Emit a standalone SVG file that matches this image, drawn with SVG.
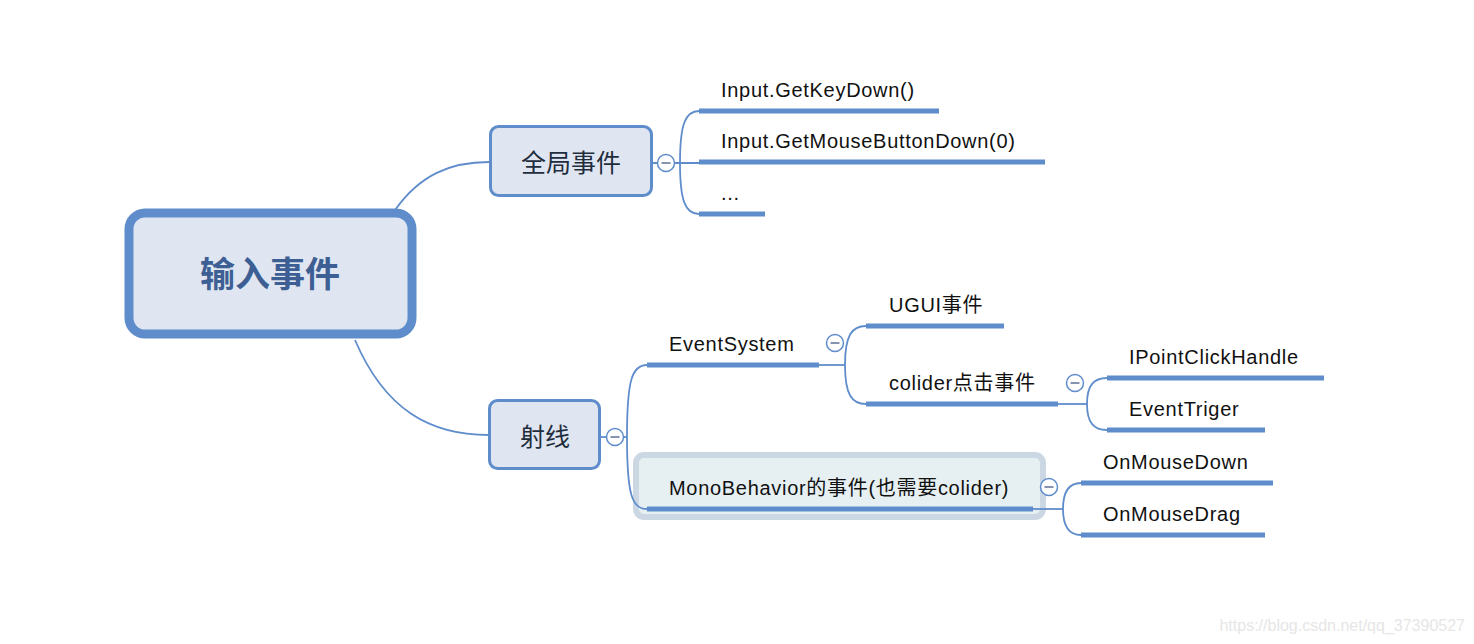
<svg xmlns="http://www.w3.org/2000/svg" width="1474" height="644" viewBox="0 0 1474 644">
<style>
.conn{fill:none;stroke:#5f8dcc;stroke-width:1.8}
.ul{stroke:#5f8dcc;stroke-width:5;fill:none}
.topic{fill:#dfe6f1;stroke:#5f8dcc;stroke-width:3}
.t{font-family:"Liberation Sans","Noto Sans CJK SC",sans-serif;font-size:20px;letter-spacing:0.7px;fill:#111}
.tc{font-family:"Noto Sans CJK SC",sans-serif;font-size:25px;fill:#1f2d3d;text-anchor:middle}
.col circle{fill:#fff;stroke:#5f8dcc;stroke-width:1.5}
.col line{stroke:#8893b0;stroke-width:2}
</style>
<defs>
<g id="collapse" class="col"><circle cx="0" cy="0" r="8.5"/><line x1="-4.5" y1="0" x2="4.5" y2="0"/></g>
</defs>
<rect width="1474" height="644" fill="#fff"/>
<g id="highlight">
<rect x="636" y="455" width="407" height="62" rx="8" fill="#e6f0f3" stroke="#cbd7e3" stroke-width="6"/>
</g>
<g id="connectors">
<path class="conn" d="M395,210 C420,175 450,162 489,162"/>
<path class="conn" d="M355,340 C385,410 430,435 489,435"/>
<path class="conn" d="M653,163 L657,163 M674,163 L699,163"/>
<path class="conn" d="M680,163 C680,125 685,111 699,111"/>
<path class="conn" d="M680,163 C680,200 685,214 699,214"/>
<path class="conn" d="M601,437 L606,437"/>
<path class="conn" d="M623,437 L627,437"/>
<path class="conn" d="M627,437 C627,380 632,365 647,365"/>
<path class="conn" d="M627,437 C627,495 632,509 647,509"/>
<path class="conn" d="M819,365 L845,365"/>
<path class="conn" d="M845,365 C845,335 852,326 866,326"/>
<path class="conn" d="M845,365 C845,395 852,404 866,404"/>
<path class="conn" d="M1058,404 L1087,404"/>
<path class="conn" d="M1087,404 C1087,385 1094,378 1107,378"/>
<path class="conn" d="M1087,404 C1087,423 1094,430 1107,430"/>
<path class="conn" d="M1033,509 L1063,509"/>
<path class="conn" d="M1063,509 C1063,490 1070,483 1081,483"/>
<path class="conn" d="M1063,509 C1063,528 1070,535 1081,535"/>
</g>
<g id="root">
<rect x="129" y="213" width="283" height="121" rx="16" fill="#dfe6f1" stroke="#5f8dcc" stroke-width="9"/>
<text x="270" y="287" text-anchor="middle" font-family="Noto Sans CJK SC,sans-serif" font-size="35" font-weight="bold" fill="#3d5f94">输入事件</text>
</g>
<g id="global">
<rect class="topic" x="490.5" y="126.5" width="161" height="69" rx="8"/>
<text class="tc" x="571" y="172">全局事件</text>
<use href="#collapse" x="666" y="163"/>
</g>
<g id="ray">
<rect class="topic" x="489.5" y="400.5" width="110" height="68" rx="8"/>
<text class="tc" x="545" y="446">射线</text>
<use href="#collapse" x="615" y="437"/>
</g>
<g id="getkeydown">
<line class="ul" x1="699" y1="111" x2="939" y2="111"/>
<text class="t" x="721" y="97">Input.GetKeyDown()</text>
</g>
<g id="getmouse">
<line class="ul" x1="699" y1="162" x2="1045" y2="162"/>
<text class="t" x="721" y="148">Input.GetMouseButtonDown(0)</text>
</g>
<g id="dots">
<line class="ul" x1="699" y1="214" x2="765" y2="214"/>
<text class="t" x="721" y="200">...</text>
</g>
<g id="eventsystem">
<line class="ul" x1="647" y1="365" x2="819" y2="365"/>
<text class="t" x="669" y="351">EventSystem</text>
<use href="#collapse" x="835" y="343"/>
</g>
<g id="ugui">
<line class="ul" x1="866" y1="326" x2="1004" y2="326"/>
<text class="t" x="889" y="312">UGUI事件</text>
</g>
<g id="colider">
<line class="ul" x1="866" y1="404" x2="1058" y2="404"/>
<text class="t" x="889" y="390">colider点击事件</text>
<use href="#collapse" x="1075" y="383"/>
</g>
<g id="ipoint">
<line class="ul" x1="1107" y1="378" x2="1324" y2="378"/>
<text class="t" x="1129" y="364">IPointClickHandle</text>
</g>
<g id="eventtriger">
<line class="ul" x1="1107" y1="430" x2="1265" y2="430"/>
<text class="t" x="1129" y="416">EventTriger</text>
</g>
<g id="mono">
<line class="ul" x1="647" y1="509" x2="1033" y2="509"/>
<text class="t" x="669" y="495">MonoBehavior的事件(也需要colider)</text>
<use href="#collapse" x="1049" y="487"/>
</g>
<g id="onmousedown">
<line class="ul" x1="1081" y1="483" x2="1273" y2="483"/>
<text class="t" x="1103" y="469">OnMouseDown</text>
</g>
<g id="onmousedrag">
<line class="ul" x1="1081" y1="535" x2="1265" y2="535"/>
<text class="t" x="1103" y="521">OnMouseDrag</text>
</g>
<text x="1465" y="631" text-anchor="end" font-family="Liberation Sans,sans-serif" font-size="16" fill="#e6e6e6">https://blog.csdn.net/qq_37390527</text>
</svg>
